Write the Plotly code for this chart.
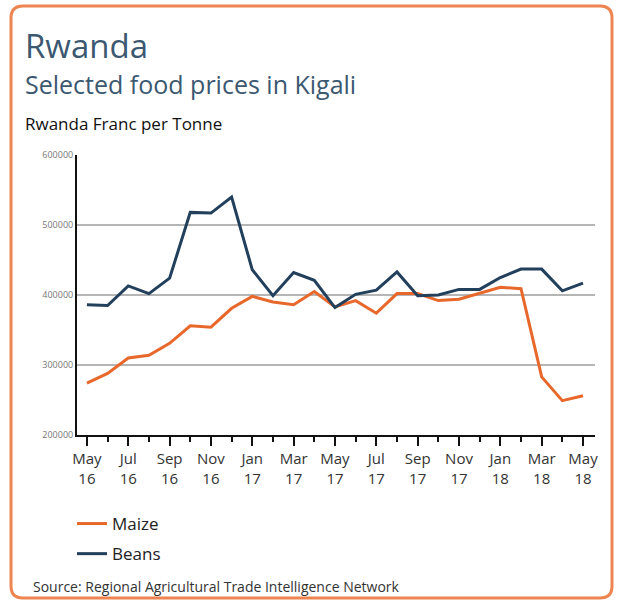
import plotly.graph_objects as go

months = ["May 16","Jun 16","Jul 16","Aug 16","Sep 16","Oct 16","Nov 16","Dec 16",
          "Jan 17","Feb 17","Mar 17","Apr 17","May 17","Jun 17","Jul 17","Aug 17",
          "Sep 17","Oct 17","Nov 17","Dec 17","Jan 18","Feb 18","Mar 18","Apr 18","May 18"]
maize = [274000, 288000, 310000, 314000, 331000, 356000, 354000, 381000,
         398000, 390000, 386000, 405000, 383000, 392000, 374000, 402000,
         402000, 392000, 394000, 402000, 411000, 409000, 283000, 249000, 256000]
beans = [386000, 385000, 413000, 402000, 424000, 518000, 517000, 540000,
         436000, 399000, 432000, 421000, 382000, 401000, 407000, 433000,
         399000, 400000, 408000, 408000, 425000, 437000, 437000, 406000, 417000]
tick_labels = ["May<br>16","Jul<br>16","Sep<br>16","Nov<br>16","Jan<br>17","Mar<br>17","May<br>17",
               "Jul<br>17","Sep<br>17","Nov<br>17","Jan<br>18","Mar<br>18","May<br>18"]
y_ticks = [200000, 300000, 400000, 500000, 600000]

W, H = 619, 604
L, R, T, B = 77, 24, 155, 169
PW, PH = W - L - R, H - T - B

def px(x):
    return (x - L) / PW

def py(y):
    return (H - B - y) / PH

x_idx = list(range(len(months)))
major_vals = x_idx[::2]

ORANGE = "#e8682c"
NAVY = "#22405c"
TITLE = "#3b5870"

fig = go.Figure()
fig.add_trace(go.Scatter(x=x_idx, y=maize, name="Maize", mode="lines", legendgroup="m",
                         line=dict(color=ORANGE, width=3)))
fig.add_trace(go.Scatter(x=x_idx, y=beans, name="Beans", mode="lines", legendgroup="b",
                         line=dict(color=NAVY, width=3)))

fig.update_layout(
    width=W, height=H,
    margin=dict(l=L, r=R, t=T, b=B),
    paper_bgcolor="white", plot_bgcolor="white",
    font=dict(family="Open Sans, sans-serif", color="#333"),
    showlegend=True,
    legend=dict(x=px(72), y=py(506), xanchor="left", yanchor="top",
                font=dict(size=17, color="#222"), tracegroupgap=5,
                bgcolor="rgba(0,0,0,0)"),
    xaxis=dict(range=[-0.48, 24.58], tickvals=major_vals, ticktext=tick_labels,
               showgrid=False, zeroline=False, showline=True, linecolor="#111", linewidth=2,
               ticks="outside", ticklen=9, tickwidth=1.5, tickcolor="#111",
               minor=dict(dtick=1, tick0=0, ticks="outside", ticklen=5,
                          tickwidth=1.5, tickcolor="#111", showgrid=False),
               tickfont=dict(size=15, color="#333"), fixedrange=True),
    yaxis=dict(range=[200000, 600000], tickvals=y_ticks, tickformat="d",
               showgrid=True, gridcolor="#b5b5b5", gridwidth=2,
               zeroline=False, showline=True, linecolor="#111", linewidth=2,
               ticks="", tickfont=dict(size=9, color="#777"), fixedrange=True),
)

# rounded orange border
x0, x1 = px(11), px(612)
y0, y1 = py(598), py(6)
rx, ry = 12 / PW, 12 / PH
path = (f"M {x0+rx},{y1} L {x1-rx},{y1} Q {x1},{y1} {x1},{y1-ry} "
        f"L {x1},{y0+ry} Q {x1},{y0} {x1-rx},{y0} L {x0+rx},{y0} "
        f"Q {x0},{y0} {x0},{y0+ry} L {x0},{y1-ry} Q {x0},{y1} {x0+rx},{y1} Z")
fig.add_shape(type="path", path=path, xref="paper", yref="paper",
              line=dict(color="#ee8450", width=3), layer="below")

fig.add_annotation(text="Rwanda", x=px(23), y=py(45), xref="paper", yref="paper",
                   xanchor="left", yanchor="middle", showarrow=False,
                   font=dict(size=33, color=TITLE))
fig.add_annotation(text="Selected food prices in Kigali", x=px(23), y=py(84),
                   xref="paper", yref="paper", xanchor="left", yanchor="middle",
                   showarrow=False, font=dict(size=25, color=TITLE))
fig.add_annotation(text="Rwanda Franc per Tonne", x=px(23), y=py(124),
                   xref="paper", yref="paper", xanchor="left", yanchor="middle",
                   showarrow=False, font=dict(size=17, color="#111"))
fig.add_annotation(text="Source: Regional Agricultural Trade Intelligence Network",
                   x=px(31), y=py(586), xref="paper", yref="paper",
                   xanchor="left", yanchor="middle", showarrow=False,
                   font=dict(size=14, color="#333"))

fig.write_html("out.html", config={"displayModeBar": False},
               post_script="document.body.style.margin='0px';")
